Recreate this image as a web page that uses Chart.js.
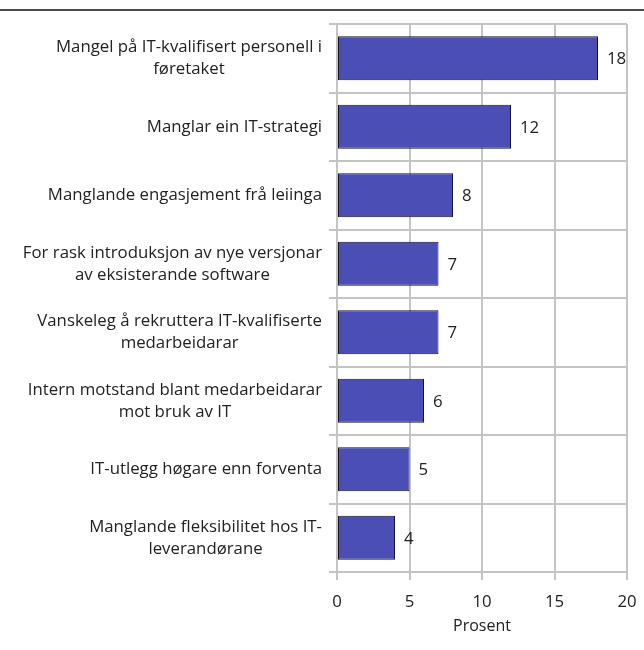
<!DOCTYPE html>
<html>
<head>
<meta charset="utf-8">
<script src="https://cdn.jsdelivr.net/npm/chart.js@4/dist/chart.umd.min.js"></script>
<style>
  html, body { margin: 0; padding: 0; background: #fff; }
  #wrap { position: relative; width: 644px; height: 650px; }
</style>
</head>
<body>
<div id="wrap"><canvas id="c"></canvas></div>
<script>
// Obstacles to IT use in the enterprise, share of respondents (per cent)
const categories = [
  ["Mangel på IT-kvalifisert personell i", "føretaket"],
  ["Manglar ein IT-strategi"],
  ["Manglande engasjement frå leiinga"],
  ["For rask introduksjon av nye versjonar", "av eksisterande software"],
  ["Vanskeleg å rekruttera IT-kvalifiserte", "medarbeidarar"],
  ["Intern motstand blant medarbeidarar", "mot bruk av IT"],
  ["IT-utlegg høgare enn forventa"],
  ["Manglande fleksibilitet hos IT-", "leverandørane"]
];
const percentValues = [18, 12, 8, 7, 7, 6, 5, 4];
const xTicks = [0, 5, 10, 15, 20];
const xTitle = "Prosent";

const FONT = "'Open Sans', 'Noto Sans', sans-serif";
const TEXT = "#222222";
const GRID = "#c4c4c4";
const LABEL_SIZE = 16.8;

// Thin black rule across the top of the figure
const topRule = {
  id: "topRule",
  afterDraw(chart) {
    const ctx = chart.ctx;
    ctx.save();
    ctx.strokeStyle = "#111";
    ctx.lineWidth = 1.5;
    ctx.beginPath();
    ctx.moveTo(0, 10);
    ctx.lineTo(chart.width, 10);
    ctx.stroke();
    ctx.restore();
  }
};

// Category labels: block right-aligned against the axis, lines centred within the block
const categoryLabels = {
  id: "categoryLabels",
  afterDraw(chart) {
    const ctx = chart.ctx;
    const y = chart.scales.y;
    const right = y.right - 15;
    const lh = 22;
    ctx.save();
    ctx.font = LABEL_SIZE + "px " + FONT;
    ctx.fillStyle = TEXT;
    ctx.textAlign = "center";
    ctx.textBaseline = "middle";
    categories.forEach((lines, i) => {
      const w = Math.max(...lines.map(l => ctx.measureText(l).width));
      const cx = right - w / 2;
      const cy = y.getPixelForValue(i);
      const y0 = cy - (lines.length - 1) * lh / 2;
      lines.forEach((l, k) => ctx.fillText(l, cx, y0 + k * lh));
    });
    ctx.restore();
  }
};

// Value printed just past the end of each bar
const valueLabels = {
  id: "valueLabels",
  afterDatasetsDraw(chart) {
    const ctx = chart.ctx;
    const meta = chart.getDatasetMeta(0);
    ctx.save();
    ctx.font = LABEL_SIZE + "px " + FONT;
    ctx.fillStyle = TEXT;
    ctx.textAlign = "left";
    ctx.textBaseline = "middle";
    meta.data.forEach((bar, i) => {
      ctx.fillText(String(percentValues[i]), bar.x + 9, bar.y + 1);
    });
    ctx.restore();
  }
};

new Chart(document.getElementById("c"), {
  type: "bar",
  data: {
    labels: categories.map(l => l.join(" ")),
    datasets: [{
      data: percentValues,
      backgroundColor: "#4b4eb5",
      borderColor: "#15152a",
      borderWidth: 1,
      borderSkipped: false,
      barPercentage: 0.64,
      categoryPercentage: 1.0
    }]
  },
  options: {
    indexAxis: "y",
    responsive: true,
    maintainAspectRatio: false,
    animation: false,
    layout: { padding: { top: 24, right: 17, left: 0, bottom: 0 } },
    plugins: {
      legend: { display: false },
      tooltip: { enabled: false }
    },
    scales: {
      x: {
        min: 0,
        max: 20,
        afterBuildTicks(scale) {
          scale.ticks = xTicks.map(v => ({ value: v }));
        },
        afterFit(scale) {
          scale.height = 78;
          scale.paddingLeft = 0;
          scale.paddingRight = 0;
        },
        grid: {
          color: GRID,
          lineWidth: 2,
          tickLength: 8,
          drawTicks: true
        },
        border: { display: false },
        ticks: {
          color: TEXT,
          font: { family: FONT, size: LABEL_SIZE },
          padding: 12,
          maxRotation: 0
        },
        title: {
          display: true,
          text: xTitle,
          color: TEXT,
          font: { family: FONT, size: 16 },
          padding: { top: 0, bottom: 14 }
        }
      },
      y: {
        afterFit(scale) { scale.width = 337; },
        grid: {
          color: GRID,
          lineWidth: 2,
          offset: true,
          tickLength: 8,
          drawTicks: true
        },
        border: { display: true, color: GRID, width: 2 },
        ticks: { display: false }
      }
    }
  },
  plugins: [topRule, categoryLabels, valueLabels]
});
</script>
</body>
</html>
